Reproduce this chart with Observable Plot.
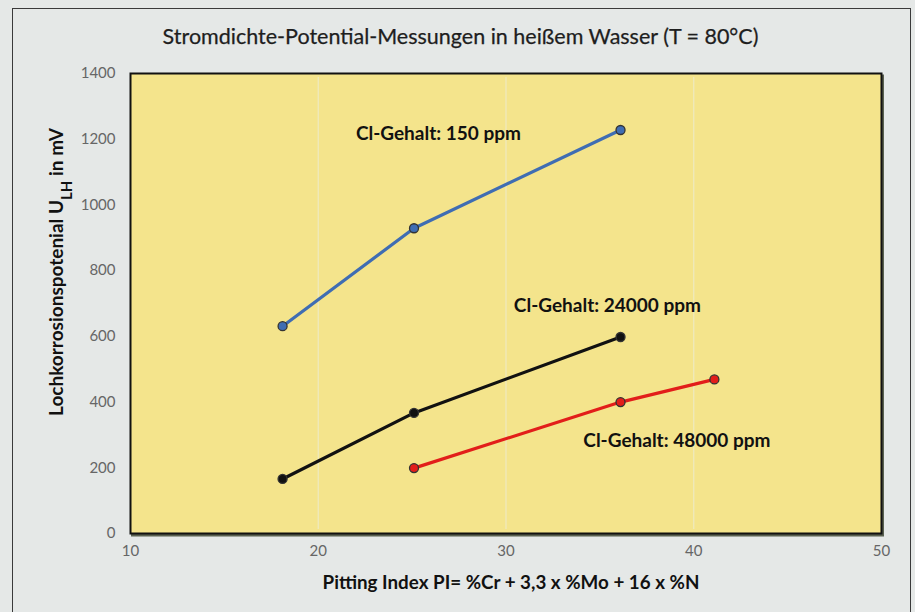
<!DOCTYPE html>
<html><head><meta charset="utf-8">
<script src="https://cdn.jsdelivr.net/npm/d3@7"></script>
<script src="https://cdn.jsdelivr.net/npm/@observablehq/plot@0.6"></script>
<style>
html,body{margin:0;padding:0;background:#e5e8e7;}
#wrap{position:relative;width:915px;height:612px;overflow:hidden;font-family:Lato,"Open Sans",sans-serif;}
#frame{position:absolute;left:12px;top:8px;width:899px;height:640px;border:1.5px solid #3a3a3a;box-sizing:border-box;}
#title{position:absolute;left:3px;top:26px;width:915px;text-align:center;font-size:21.5px;color:#1e1e1e;line-height:1;-webkit-text-stroke:0.25px #1e1e1e;}
#chart{position:absolute;left:0;top:0;}
</style></head><body>
<div id="wrap"><div id="frame"></div><div id="title">Stromdichte-Potential-Messungen in heißem Wasser (T = 80°C)</div><div id="chart"></div></div>
<script>
// Data
const seriesNames = ["Cl-Gehalt: 150 ppm", "Cl-Gehalt: 24000 ppm", "Cl-Gehalt: 48000 ppm"];
const pitting150 = [18.1, 25.1, 36.1];
const potential150 = [631, 929, 1228];
const pitting24000 = [18.1, 25.1, 36.1];
const potential24000 = [166, 367, 598];
const pitting48000 = [25.1, 36.1, 41.1];
const potential48000 = [199, 400, 469];
const labelX = [26.4, 35.4, 39.1];
const labelY = [1217, 692, 281];
const xTicks = [10, 20, 30, 40, 50];
const yTicks = [0, 200, 400, 600, 800, 1000, 1200, 1400];
const colors = ["#3f6db3", "#111111", "#e21e1a"];

const rows = (xs, ys, s) => xs.map((x, i) => ({x, y: ys[i], s}));
const data = [
  ...rows(pitting150, potential150, seriesNames[0]),
  ...rows(pitting24000, potential24000, seriesNames[1]),
  ...rows(pitting48000, potential48000, seriesNames[2])
];
const labels = seriesNames.map((name, i) => ({name, x: labelX[i], y: labelY[i]}));

const chart = Plot.plot({
  width: 915,
  height: 612,
  marginLeft: 130,
  marginRight: 34,
  marginTop: 73,
  marginBottom: 79,
  style: {background: "transparent", fontFamily: "Lato, 'Open Sans', sans-serif", fontSize: "15px", color: "#666"},
  x: {domain: [10, 50]},
  y: {domain: [0, 1400]},
  color: {domain: seriesNames, range: colors},
  marks: [
    Plot.frame({fill: "#5a6150", stroke: "#5a6150", strokeWidth: 2, dx: 1.5, dy: 2}),
    Plot.frame({fill: "#f4e48c", stroke: "#111", strokeWidth: 2}),
    Plot.ruleX([20, 30, 40], {stroke: "#eeeac0", strokeWidth: 1.2, insetTop: 4, insetBottom: 4}),
    Plot.line(data, {x: "x", y: "y", z: "s", stroke: "s", strokeWidth: 3.2}),
    Plot.dot(data, {x: "x", y: "y", fill: "s", stroke: "#333", strokeWidth: 1.3, r: 4.5}),
    Plot.text(labels, {x: "x", y: "y", text: "name", fill: "#111", fontWeight: "bold", fontSize: 19, textAnchor: "middle"}),
    Plot.axisX({ticks: xTicks, tickSize: 0, tickPadding: 12, tickFormat: d3.format("d"), label: null, fill: "#666", fontSize: 15}),
    Plot.axisY({ticks: yTicks, tickSize: 0, tickPadding: 15, tickFormat: d3.format("d"), label: null, fill: "#666", fontSize: 15})
  ]
});
document.getElementById("chart").appendChild(chart);

const svg = d3.select(chart);
const yl = svg.append("text")
  .attr("transform", "translate(63,272) rotate(-90)")
  .attr("text-anchor", "middle")
  .attr("fill", "#111")
  .attr("font-weight", "bold")
  .attr("font-size", 19);
yl.append("tspan").text("Lochkorrosionspotenial U");
yl.append("tspan").attr("baseline-shift", "sub").attr("font-size", 15).text("LH");
yl.append("tspan").text(" in mV");

svg.append("text")
  .attr("x", 511).attr("y", 589)
  .attr("text-anchor", "middle")
  .attr("fill", "#111")
  .attr("font-weight", "bold")
  .attr("font-size", 18.8)
  .text("Pitting Index PI= %Cr + 3,3 x %Mo + 16 x %N");
</script>
</body></html>
